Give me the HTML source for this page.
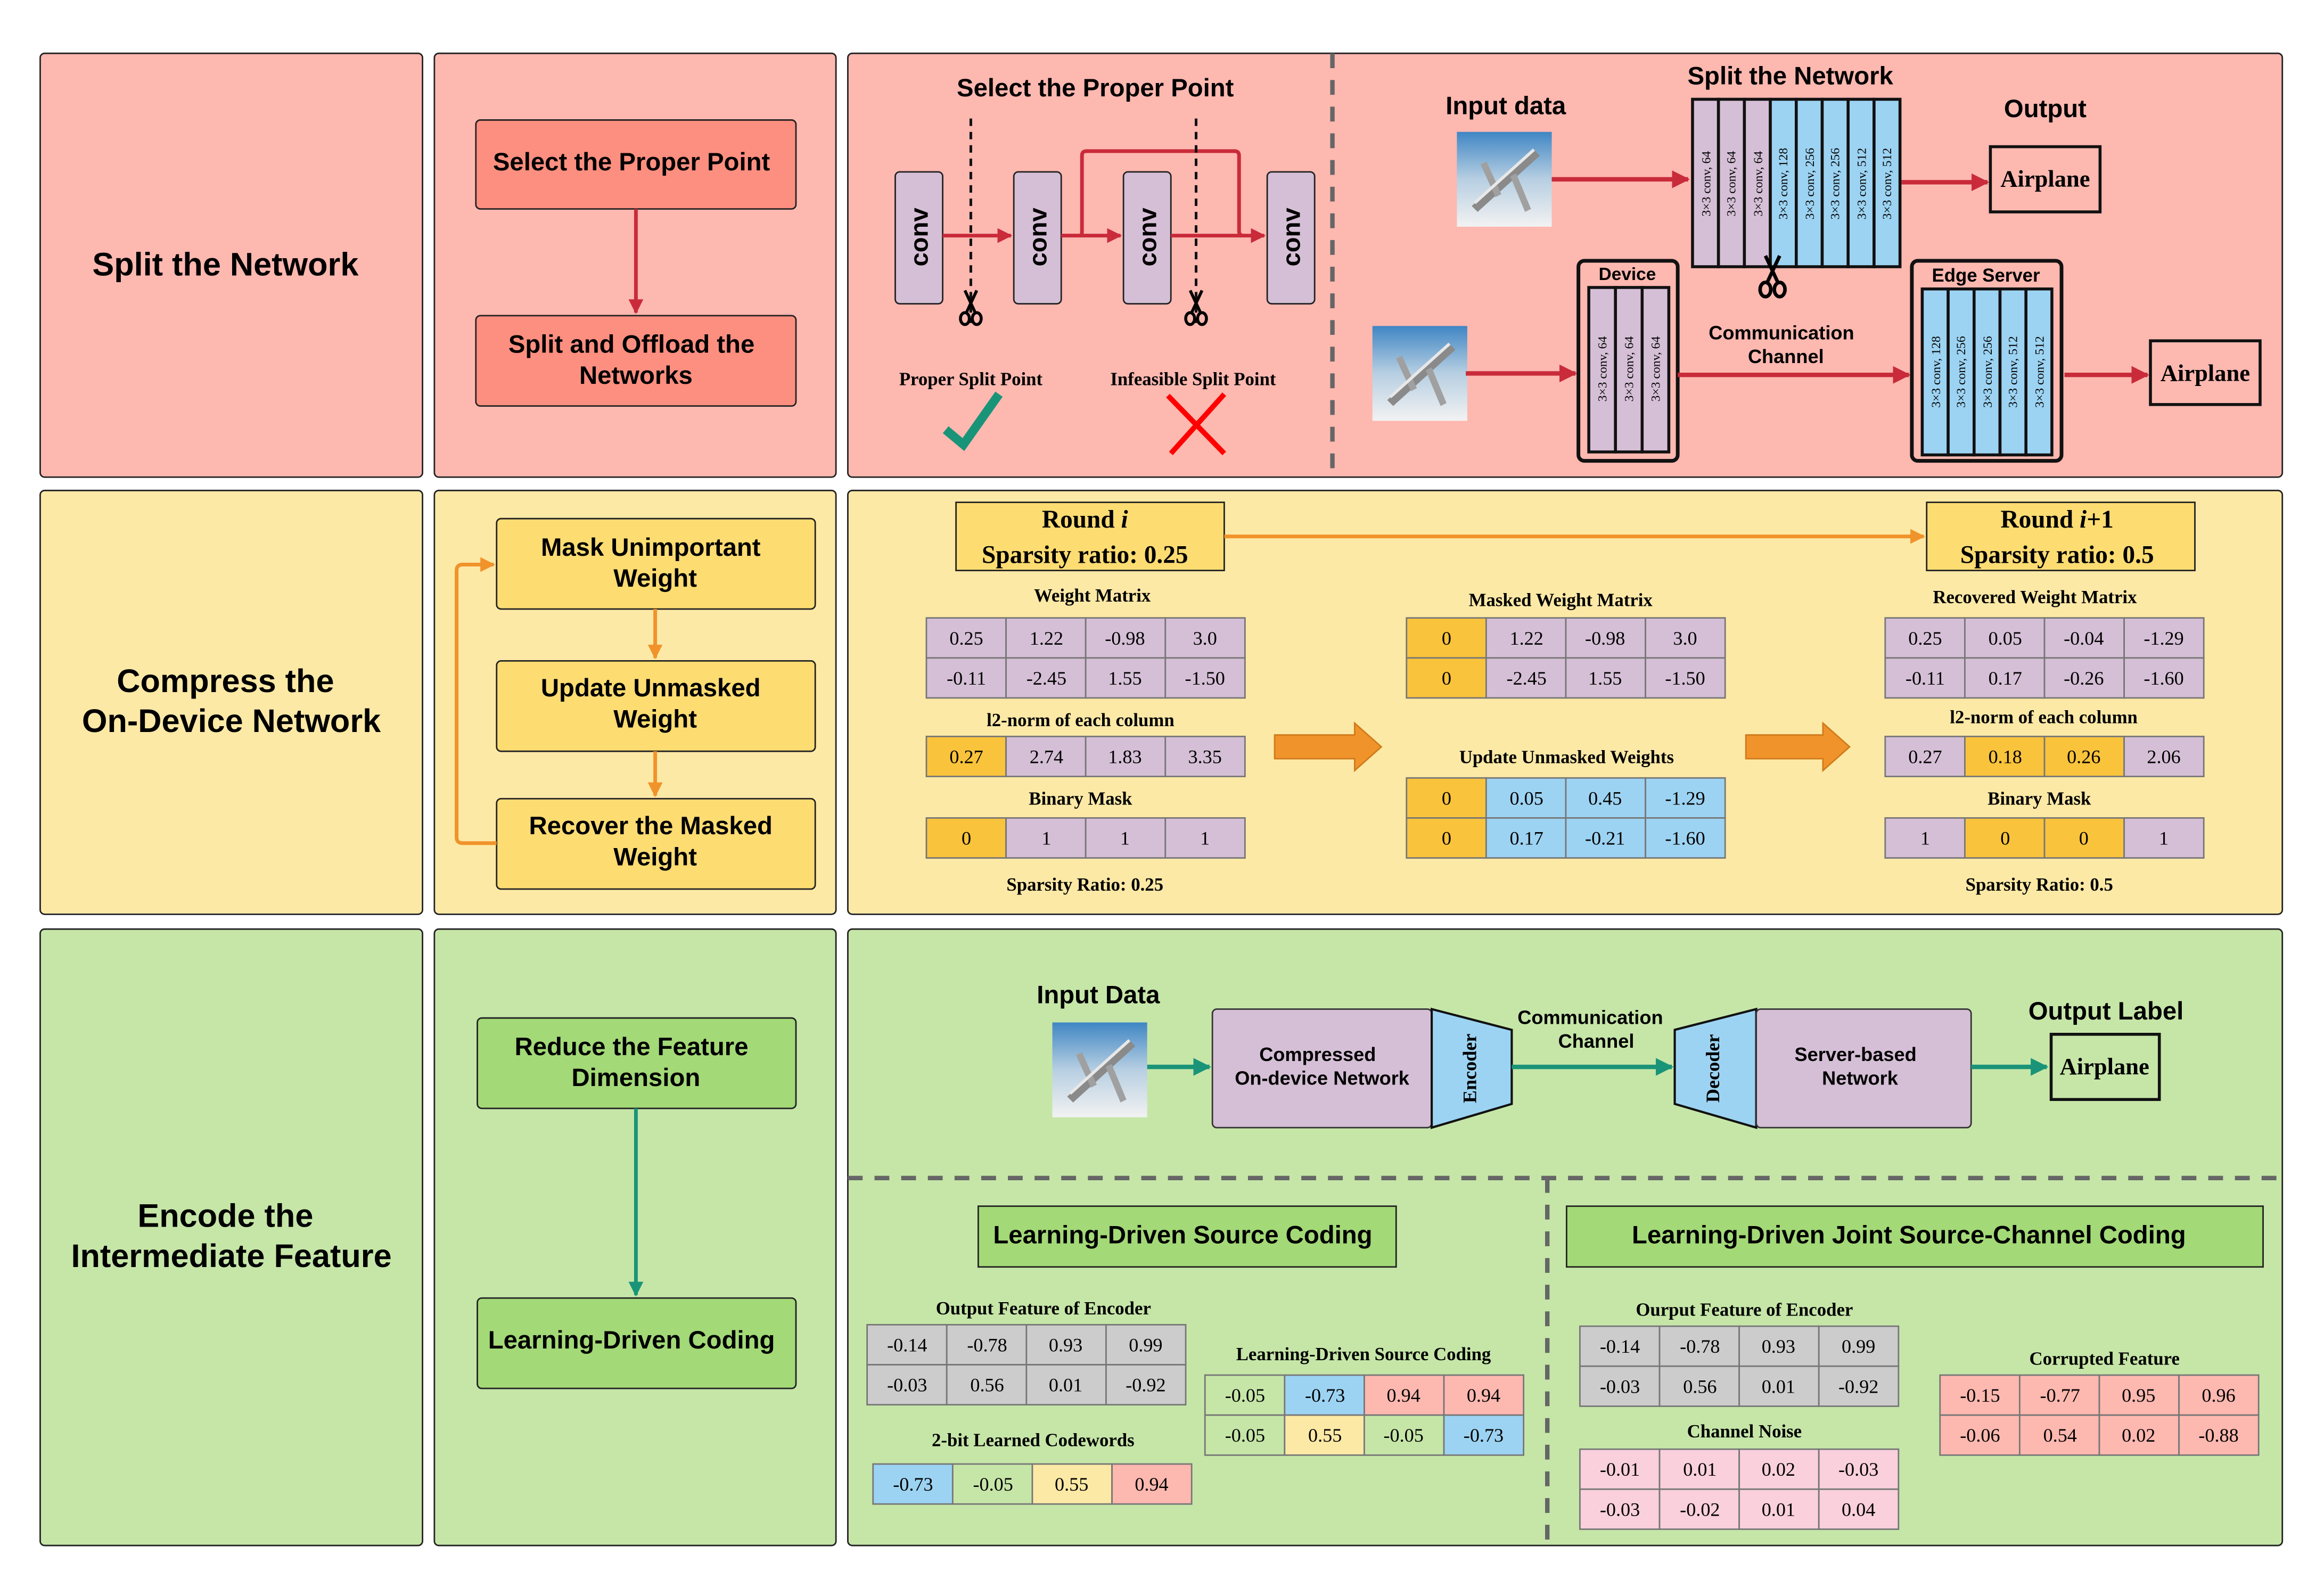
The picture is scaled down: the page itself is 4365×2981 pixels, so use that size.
<!DOCTYPE html>
<html><head><meta charset="utf-8"><style>
html,body{margin:0;padding:0;background:#fff;}
svg{display:block;}
.sb{font-family:"Liberation Sans",sans-serif;font-weight:bold;}
.sf{font-family:"Liberation Serif",serif;}
.sfb{font-family:"Liberation Serif",serif;font-weight:bold;}
</style></head><body>
<svg width="4365" height="2981" viewBox="0 0 1568 1071" xmlns="http://www.w3.org/2000/svg">
<defs>
<marker id="ar" viewBox="0 0 10 10" refX="9" refY="5" markerWidth="4" markerHeight="4" orient="auto"><path d="M0,0 L10,5 L0,10 z" fill="#c92b3a"/></marker>
<marker id="ao" viewBox="0 0 10 10" refX="9" refY="5" markerWidth="4" markerHeight="4" orient="auto"><path d="M0,0 L10,5 L0,10 z" fill="#f0932b"/></marker>
<marker id="at" viewBox="0 0 10 10" refX="9" refY="5" markerWidth="4" markerHeight="4" orient="auto"><path d="M0,0 L10,5 L0,10 z" fill="#1a9478"/></marker>
<linearGradient id="sky" x1="0" y1="0" x2="0" y2="1"><stop offset="0" stop-color="#3f86c4"/><stop offset="0.5" stop-color="#b7cfe2"/><stop offset="1" stop-color="#f2f2f2"/></linearGradient>
<g id="plane">
<rect x="0" y="0" width="64" height="64" fill="url(#sky)"/>
<path d="M10,50 L52,12 L56,16 L14,54 z" fill="#8a8a8a"/>
<path d="M20,20 L30,42 L26,44 L16,22 z" fill="#a0a0a0"/>
<path d="M40,28 L50,52 L46,54 L36,30 z" fill="#a0a0a0"/>
<path d="M12,48 L52,12" stroke="#e8e8e8" stroke-width="2"/>
</g>
<g id="sc" stroke="#000" stroke-width="2" fill="none">
<line x1="-4" y1="-12" x2="3" y2="3"/>
<line x1="4" y1="-12" x2="-3" y2="3"/>
<ellipse cx="-4" cy="7" rx="3" ry="4"/>
<ellipse cx="4" cy="7" rx="3" ry="4"/>
</g>
</defs>

<!-- Panels -->
<g stroke="#222" stroke-width="1">
<rect x="27" y="36" width="258" height="286" rx="3" fill="#fdb8b0"/>
<rect x="293" y="36" width="271" height="286" rx="3" fill="#fdb8b0"/>
<rect x="572" y="36" width="968" height="286" rx="3" fill="#fdb8b0"/>
<rect x="27" y="331" width="258" height="286" rx="3" fill="#fde9a6"/>
<rect x="293" y="331" width="271" height="286" rx="3" fill="#fde9a6"/>
<rect x="572" y="331" width="968" height="286" rx="3" fill="#fde9a6"/>
<rect x="27" y="627" width="258" height="416" rx="3" fill="#c6e6a8"/>
<rect x="293" y="627" width="271" height="416" rx="3" fill="#c6e6a8"/>
<rect x="572" y="627" width="968" height="416" rx="3" fill="#c6e6a8"/>
</g>

<!-- Row 1 -->
<text class="sb" x="152" y="186" font-size="22" text-anchor="middle">Split the Network</text>
<rect x="321" y="81" width="216" height="60" rx="3" fill="#fd8f80" stroke="#222"/>
<text class="sb" x="426" y="115" font-size="17" text-anchor="middle">Select the Proper Point</text>
<line x1="429" y1="141" x2="429" y2="211" stroke="#c92b3a" stroke-width="2.5" marker-end="url(#ar)"/>
<rect x="321" y="213" width="216" height="61" rx="3" fill="#fd8f80" stroke="#222"/>
<text class="sb" x="426" y="238" font-size="17" text-anchor="middle">Split and Offload the</text>
<text class="sb" x="429" y="259" font-size="17" text-anchor="middle">Networks</text>

<text class="sb" x="739" y="65" font-size="17" text-anchor="middle">Select the Proper Point</text>
<g stroke="#222" fill="#d5bfd6">
<rect x="604" y="116" width="32" height="89" rx="3"/>
<rect x="684" y="116" width="32" height="89" rx="3"/>
<rect x="758" y="116" width="32" height="89" rx="3"/>
<rect x="855" y="116" width="32" height="89" rx="3"/>
</g>
<g class="sb" font-size="17" text-anchor="middle">
<text transform="translate(626,160) rotate(-90)">conv</text>
<text transform="translate(706,160) rotate(-90)">conv</text>
<text transform="translate(780,160) rotate(-90)">conv</text>
<text transform="translate(877,160) rotate(-90)">conv</text>
</g>
<g stroke="#c92b3a" stroke-width="2.5" fill="none">
<line x1="636" y1="159" x2="682" y2="159" marker-end="url(#ar)"/>
<line x1="716" y1="159" x2="756" y2="159" marker-end="url(#ar)"/>
<line x1="790" y1="159" x2="853" y2="159" marker-end="url(#ar)"/>
<path d="M716,159 L729,159 Q730,159 730,156 L730,105 Q730,102 733,102 L833,102 Q836,102 836,105 L836,156 Q836,159 839,159"/>
</g>
<g stroke="#111" stroke-width="1.8" stroke-dasharray="5,4">
<line x1="655" y1="80" x2="655" y2="218"/>
<line x1="807" y1="80" x2="807" y2="218"/>
</g>
<use href="#sc" transform="translate(655,208)"/>
<use href="#sc" transform="translate(807,208)"/>
<text class="sfb" x="655" y="260" font-size="12.5" text-anchor="middle">Proper Split Point</text>
<text class="sfb" x="805" y="260" font-size="12.5" text-anchor="middle">Infeasible Split Point</text>
<path d="M638,290 L650,300 L674,266" stroke="#1a9478" stroke-width="6" fill="none"/>
<path d="M788,267 L826,306 M826,266 L790,306" stroke="#ff0000" stroke-width="3.5" fill="none"/>

<line x1="899" y1="36" x2="899" y2="322" stroke="#666" stroke-width="3" stroke-dasharray="10,8"/>

<text class="sb" x="1208" y="57" font-size="17" text-anchor="middle">Split the Network</text>
<text class="sb" x="1016" y="77" font-size="17" text-anchor="middle">Input data</text>
<text class="sb" x="1380" y="79" font-size="17" text-anchor="middle">Output</text>
<use href="#plane" x="983" y="89"/>
<line x1="1047" y1="121" x2="1139" y2="121" stroke="#c92b3a" stroke-width="3" marker-end="url(#ar)"/>
<g stroke="#111" stroke-width="2">
<rect x="1142" y="67" width="17.5" height="113" fill="#d5bfd6"/>
<rect x="1159.5" y="67" width="17.5" height="113" fill="#d5bfd6"/>
<rect x="1177" y="67" width="17.5" height="113" fill="#d5bfd6"/>
<rect x="1194.5" y="67" width="17.5" height="113" fill="#9dd3f2"/>
<rect x="1212" y="67" width="17.5" height="113" fill="#9dd3f2"/>
<rect x="1229.5" y="67" width="17.5" height="113" fill="#9dd3f2"/>
<rect x="1247" y="67" width="17.5" height="113" fill="#9dd3f2"/>
<rect x="1264.5" y="67" width="17.5" height="113" fill="#9dd3f2"/>
</g>
<g class="sf" font-size="8.5" text-anchor="middle">
<text transform="translate(1154,124) rotate(-90)">3×3 conv, 64</text>
<text transform="translate(1171,124) rotate(-90)">3×3 conv, 64</text>
<text transform="translate(1189,124) rotate(-90)">3×3 conv, 64</text>
<text transform="translate(1206,124) rotate(-90)">3×3 conv, 128</text>
<text transform="translate(1224,124) rotate(-90)">3×3 conv, 256</text>
<text transform="translate(1241,124) rotate(-90)">3×3 conv, 256</text>
<text transform="translate(1259,124) rotate(-90)">3×3 conv, 512</text>
<text transform="translate(1276,124) rotate(-90)">3×3 conv, 512</text>
</g>
<use href="#sc" transform="translate(1196,187) scale(1.2)"/>
<line x1="1283" y1="123" x2="1341" y2="123" stroke="#c92b3a" stroke-width="3" marker-end="url(#ar)"/>
<rect x="1343" y="99" width="74" height="44" fill="none" stroke="#111" stroke-width="2"/>
<text class="sfb" x="1380" y="126" font-size="16" text-anchor="middle">Airplane</text>

<use href="#plane" x="926" y="220"/>
<line x1="989" y1="252" x2="1063" y2="252" stroke="#c92b3a" stroke-width="3" marker-end="url(#ar)"/>
<rect x="1065" y="176" width="67" height="135" rx="4" fill="none" stroke="#111" stroke-width="2.5"/>
<text class="sb" x="1098" y="189" font-size="12" text-anchor="middle">Device</text>
<g stroke="#111" stroke-width="2" fill="#d5bfd6">
<rect x="1072" y="194" width="18" height="111"/>
<rect x="1090" y="194" width="18" height="111"/>
<rect x="1108" y="194" width="18" height="111"/>
</g>
<g class="sf" font-size="8.5" text-anchor="middle">
<text transform="translate(1084,249) rotate(-90)">3×3 conv, 64</text>
<text transform="translate(1102,249) rotate(-90)">3×3 conv, 64</text>
<text transform="translate(1120,249) rotate(-90)">3×3 conv, 64</text>
</g>
<text class="sb" x="1202" y="229" font-size="13" text-anchor="middle">Communication</text>
<text class="sb" x="1205" y="245" font-size="13" text-anchor="middle">Channel</text>
<line x1="1132" y1="253" x2="1288" y2="253" stroke="#c92b3a" stroke-width="3" marker-end="url(#ar)"/>
<rect x="1290" y="176" width="101" height="135" rx="4" fill="none" stroke="#111" stroke-width="2.5"/>
<text class="sb" x="1340" y="190" font-size="12.5" text-anchor="middle">Edge Server</text>
<g stroke="#111" stroke-width="2" fill="#9dd3f2">
<rect x="1297" y="195" width="17.5" height="112"/>
<rect x="1314.5" y="195" width="17.5" height="112"/>
<rect x="1332" y="195" width="17.5" height="112"/>
<rect x="1349.5" y="195" width="17.5" height="112"/>
<rect x="1367" y="195" width="17.5" height="112"/>
</g>
<g class="sf" font-size="8.5" text-anchor="middle">
<text transform="translate(1309,251) rotate(-90)">3×3 conv, 128</text>
<text transform="translate(1326,251) rotate(-90)">3×3 conv, 256</text>
<text transform="translate(1344,251) rotate(-90)">3×3 conv, 256</text>
<text transform="translate(1361,251) rotate(-90)">3×3 conv, 512</text>
<text transform="translate(1379,251) rotate(-90)">3×3 conv, 512</text>
</g>
<line x1="1393" y1="253" x2="1449" y2="253" stroke="#c92b3a" stroke-width="3" marker-end="url(#ar)"/>
<rect x="1451" y="230" width="74" height="43" fill="none" stroke="#111" stroke-width="2"/>
<text class="sfb" x="1488" y="257" font-size="16" text-anchor="middle">Airplane</text>

<!-- Row 2 -->
<text class="sb" x="152" y="467" font-size="22" text-anchor="middle">Compress the</text>
<text class="sb" x="156" y="494" font-size="22" text-anchor="middle">On-Device Network</text>
<g fill="#fddc72" stroke="#222">
<rect x="335" y="350" width="215" height="61" rx="3"/>
<rect x="335" y="446" width="215" height="61" rx="3"/>
<rect x="335" y="539" width="215" height="61" rx="3"/>
</g>
<g class="sb" font-size="17" text-anchor="middle">
<text x="439" y="375">Mask Unimportant</text><text x="442" y="396">Weight</text>
<text x="439" y="470">Update Unmasked</text><text x="442" y="491">Weight</text>
<text x="439" y="563">Recover the Masked</text><text x="442" y="584">Weight</text>
</g>
<g stroke="#f0932b" stroke-width="2.5" fill="none">
<line x1="442" y1="411" x2="442" y2="444" marker-end="url(#ao)"/>
<line x1="442" y1="507" x2="442" y2="537" marker-end="url(#ao)"/>
<path d="M335,569 L312,569 Q308,569 308,565 L308,385 Q308,381 312,381 L333,381" marker-end="url(#ao)"/>
</g>

<rect x="645" y="339" width="181" height="46" fill="#fddc72" stroke="#222"/>
<text class="sfb" x="732" y="356" font-size="17" text-anchor="middle">Round <tspan font-style="italic">i</tspan></text>
<text class="sfb" x="732" y="380" font-size="17" text-anchor="middle">Sparsity ratio: 0.25</text>
<line x1="826" y1="362" x2="1298" y2="362" stroke="#f0932b" stroke-width="2.5" marker-end="url(#ao)"/>
<rect x="1300" y="339" width="181" height="46" fill="#fddc72" stroke="#222"/>
<text class="sfb" x="1388" y="356" font-size="17" text-anchor="middle">Round <tspan font-style="italic">i</tspan>+1</text>
<text class="sfb" x="1388" y="380" font-size="17" text-anchor="middle">Sparsity ratio: 0.5</text>

<g class="sfb" font-size="12.5" text-anchor="middle">
<text x="737" y="406">Weight Matrix</text>
<text x="729" y="490">l2-norm of each column</text>
<text x="729" y="543">Binary Mask</text>
<text x="732" y="601">Sparsity Ratio: 0.25</text>
<text x="1053" y="409">Masked Weight Matrix</text>
<text x="1057" y="515">Update Unmasked Weights</text>
<text x="1373" y="407">Recovered Weight Matrix</text>
<text x="1379" y="488">l2-norm of each column</text>
<text x="1376" y="543">Binary Mask</text>
<text x="1376" y="601">Sparsity Ratio: 0.5</text>
</g>

<g stroke="#777" stroke-width="1">
<rect x="625" y="417" width="53.75" height="27" fill="#d5bfd6"/><rect x="678.75" y="417" width="53.75" height="27" fill="#d5bfd6"/><rect x="732.5" y="417" width="53.75" height="27" fill="#d5bfd6"/><rect x="786.25" y="417" width="53.75" height="27" fill="#d5bfd6"/>
<rect x="625" y="444" width="53.75" height="27" fill="#d5bfd6"/><rect x="678.75" y="444" width="53.75" height="27" fill="#d5bfd6"/><rect x="732.5" y="444" width="53.75" height="27" fill="#d5bfd6"/><rect x="786.25" y="444" width="53.75" height="27" fill="#d5bfd6"/>
<rect x="625" y="497" width="53.75" height="27" fill="#f9c33b"/><rect x="678.75" y="497" width="53.75" height="27" fill="#d5bfd6"/><rect x="732.5" y="497" width="53.75" height="27" fill="#d5bfd6"/><rect x="786.25" y="497" width="53.75" height="27" fill="#d5bfd6"/>
<rect x="625" y="552" width="53.75" height="27" fill="#f9c33b"/><rect x="678.75" y="552" width="53.75" height="27" fill="#d5bfd6"/><rect x="732.5" y="552" width="53.75" height="27" fill="#d5bfd6"/><rect x="786.25" y="552" width="53.75" height="27" fill="#d5bfd6"/>
<rect x="949" y="417" width="53.75" height="27" fill="#f9c33b"/><rect x="1002.75" y="417" width="53.75" height="27" fill="#d5bfd6"/><rect x="1056.5" y="417" width="53.75" height="27" fill="#d5bfd6"/><rect x="1110.25" y="417" width="53.75" height="27" fill="#d5bfd6"/>
<rect x="949" y="444" width="53.75" height="27" fill="#f9c33b"/><rect x="1002.75" y="444" width="53.75" height="27" fill="#d5bfd6"/><rect x="1056.5" y="444" width="53.75" height="27" fill="#d5bfd6"/><rect x="1110.25" y="444" width="53.75" height="27" fill="#d5bfd6"/>
<rect x="949" y="525" width="53.75" height="27" fill="#f9c33b"/><rect x="1002.75" y="525" width="53.75" height="27" fill="#9dd3f2"/><rect x="1056.5" y="525" width="53.75" height="27" fill="#9dd3f2"/><rect x="1110.25" y="525" width="53.75" height="27" fill="#9dd3f2"/>
<rect x="949" y="552" width="53.75" height="27" fill="#f9c33b"/><rect x="1002.75" y="552" width="53.75" height="27" fill="#9dd3f2"/><rect x="1056.5" y="552" width="53.75" height="27" fill="#9dd3f2"/><rect x="1110.25" y="552" width="53.75" height="27" fill="#9dd3f2"/>
<rect x="1272" y="417" width="53.75" height="27" fill="#d5bfd6"/><rect x="1325.75" y="417" width="53.75" height="27" fill="#d5bfd6"/><rect x="1379.5" y="417" width="53.75" height="27" fill="#d5bfd6"/><rect x="1433.25" y="417" width="53.75" height="27" fill="#d5bfd6"/>
<rect x="1272" y="444" width="53.75" height="27" fill="#d5bfd6"/><rect x="1325.75" y="444" width="53.75" height="27" fill="#d5bfd6"/><rect x="1379.5" y="444" width="53.75" height="27" fill="#d5bfd6"/><rect x="1433.25" y="444" width="53.75" height="27" fill="#d5bfd6"/>
<rect x="1272" y="497" width="53.75" height="27" fill="#d5bfd6"/><rect x="1325.75" y="497" width="53.75" height="27" fill="#f9c33b"/><rect x="1379.5" y="497" width="53.75" height="27" fill="#f9c33b"/><rect x="1433.25" y="497" width="53.75" height="27" fill="#d5bfd6"/>
<rect x="1272" y="552" width="53.75" height="27" fill="#d5bfd6"/><rect x="1325.75" y="552" width="53.75" height="27" fill="#f9c33b"/><rect x="1379.5" y="552" width="53.75" height="27" fill="#f9c33b"/><rect x="1433.25" y="552" width="53.75" height="27" fill="#d5bfd6"/>
</g>
<g class="sf" font-size="13" text-anchor="middle">
<text x="652" y="435">0.25</text><text x="706" y="435">1.22</text><text x="759" y="435">-0.98</text><text x="813" y="435">3.0</text>
<text x="652" y="462">-0.11</text><text x="706" y="462">-2.45</text><text x="759" y="462">1.55</text><text x="813" y="462">-1.50</text>
<text x="652" y="515">0.27</text><text x="706" y="515">2.74</text><text x="759" y="515">1.83</text><text x="813" y="515">3.35</text>
<text x="652" y="570">0</text><text x="706" y="570">1</text><text x="759" y="570">1</text><text x="813" y="570">1</text>
<text x="976" y="435">0</text><text x="1030" y="435">1.22</text><text x="1083" y="435">-0.98</text><text x="1137" y="435">3.0</text>
<text x="976" y="462">0</text><text x="1030" y="462">-2.45</text><text x="1083" y="462">1.55</text><text x="1137" y="462">-1.50</text>
<text x="976" y="543">0</text><text x="1030" y="543">0.05</text><text x="1083" y="543">0.45</text><text x="1137" y="543">-1.29</text>
<text x="976" y="570">0</text><text x="1030" y="570">0.17</text><text x="1083" y="570">-0.21</text><text x="1137" y="570">-1.60</text>
<text x="1299" y="435">0.25</text><text x="1353" y="435">0.05</text><text x="1406" y="435">-0.04</text><text x="1460" y="435">-1.29</text>
<text x="1299" y="462">-0.11</text><text x="1353" y="462">0.17</text><text x="1406" y="462">-0.26</text><text x="1460" y="462">-1.60</text>
<text x="1299" y="515">0.27</text><text x="1353" y="515">0.18</text><text x="1406" y="515">0.26</text><text x="1460" y="515">2.06</text>
<text x="1299" y="570">1</text><text x="1353" y="570">0</text><text x="1406" y="570">0</text><text x="1460" y="570">1</text>
</g>
<path d="M860,496 L914,496 L914,488 L932,504 L914,520 L914,512 L860,512 z" fill="#f0932b" stroke="#d07b1b"/>
<path d="M1178,496 L1230,496 L1230,488 L1248,504 L1230,520 L1230,512 L1178,512 z" fill="#f0932b" stroke="#d07b1b"/>

<!-- Row 3 -->
<text class="sb" x="152" y="828" font-size="22" text-anchor="middle">Encode the</text>
<text class="sb" x="156" y="855" font-size="22" text-anchor="middle">Intermediate Feature</text>
<rect x="322" y="687" width="215" height="61" rx="3" fill="#a3d977" stroke="#222"/>
<text class="sb" x="426" y="712" font-size="17" text-anchor="middle">Reduce the Feature</text>
<text class="sb" x="429" y="733" font-size="17" text-anchor="middle">Dimension</text>
<line x1="429" y1="748" x2="429" y2="874" stroke="#1a9478" stroke-width="2.5" marker-end="url(#at)"/>
<rect x="322" y="876" width="215" height="61" rx="3" fill="#a3d977" stroke="#222"/>
<text class="sb" x="426" y="910" font-size="17" text-anchor="middle">Learning-Driven Coding</text>

<text class="sb" x="741" y="677" font-size="17" text-anchor="middle">Input Data</text>
<use href="#plane" x="710" y="690"/>
<line x1="774" y1="720" x2="816" y2="720" stroke="#1a9478" stroke-width="3" marker-end="url(#at)"/>
<rect x="818" y="681" width="148" height="80" rx="3" fill="#d5bfd6" stroke="#333"/>
<text class="sb" x="889" y="716" font-size="13" text-anchor="middle">Compressed</text>
<text class="sb" x="892" y="732" font-size="13" text-anchor="middle">On-device Network</text>
<path d="M966,681 L1020,695 L1020,745 L966,761 z" fill="#9dd3f2" stroke="#111" stroke-width="1.5"/>
<text class="sfb" font-size="13" text-anchor="middle" transform="translate(996,721) rotate(-90)">Encoder</text>
<text class="sb" x="1073" y="691" font-size="13" text-anchor="middle">Communication</text>
<text class="sb" x="1077" y="707" font-size="13" text-anchor="middle">Channel</text>
<line x1="1020" y1="720" x2="1128" y2="720" stroke="#1a9478" stroke-width="3" marker-end="url(#at)"/>
<path d="M1130,695 L1185,681 L1185,761 L1130,745 z" fill="#9dd3f2" stroke="#111" stroke-width="1.5"/>
<text class="sfb" font-size="13" text-anchor="middle" transform="translate(1160,721) rotate(-90)">Decoder</text>
<rect x="1185" y="681" width="145" height="80" rx="3" fill="#d5bfd6" stroke="#333"/>
<text class="sb" x="1252" y="716" font-size="13" text-anchor="middle">Server-based</text>
<text class="sb" x="1255" y="732" font-size="13" text-anchor="middle">Network</text>
<line x1="1330" y1="720" x2="1381" y2="720" stroke="#1a9478" stroke-width="3" marker-end="url(#at)"/>
<text class="sb" x="1421" y="688" font-size="17" text-anchor="middle">Output Label</text>
<rect x="1384" y="698" width="73" height="44" fill="none" stroke="#111" stroke-width="2"/>
<text class="sfb" x="1420" y="725" font-size="16" text-anchor="middle">Airplane</text>

<line x1="572" y1="795" x2="1540" y2="795" stroke="#666" stroke-width="3" stroke-dasharray="10,8"/>
<line x1="1044" y1="795" x2="1044" y2="1043" stroke="#666" stroke-width="3" stroke-dasharray="10,8"/>

<rect x="660" y="814" width="282" height="41" fill="#a3d977" stroke="#222"/>
<text class="sb" x="798" y="839" font-size="17" text-anchor="middle">Learning-Driven Source Coding</text>
<rect x="1057" y="814" width="470" height="41" fill="#a3d977" stroke="#222"/>
<text class="sb" x="1288" y="839" font-size="17" text-anchor="middle">Learning-Driven Joint Source-Channel Coding</text>

<g class="sfb" font-size="12.5" text-anchor="middle">
<text x="704" y="887">Output Feature of Encoder</text>
<text x="697" y="976">2-bit Learned Codewords</text>
<text x="920" y="918">Learning-Driven Source Coding</text>
<text x="1177" y="888">Ourput Feature of Encoder</text>
<text x="1177" y="970">Channel Noise</text>
<text x="1420" y="921">Corrupted Feature</text>
</g>
<g stroke="#777" stroke-width="1">
<rect x="585" y="894" width="53.75" height="27" fill="#cccccc"/><rect x="638.75" y="894" width="53.75" height="27" fill="#cccccc"/><rect x="692.5" y="894" width="53.75" height="27" fill="#cccccc"/><rect x="746.25" y="894" width="53.75" height="27" fill="#cccccc"/>
<rect x="585" y="921" width="53.75" height="27" fill="#cccccc"/><rect x="638.75" y="921" width="53.75" height="27" fill="#cccccc"/><rect x="692.5" y="921" width="53.75" height="27" fill="#cccccc"/><rect x="746.25" y="921" width="53.75" height="27" fill="#cccccc"/>
<rect x="589" y="988" width="53.75" height="27" fill="#9dd3f2"/><rect x="642.75" y="988" width="53.75" height="27" fill="#c6e6a8"/><rect x="696.5" y="988" width="53.75" height="27" fill="#fde9a6"/><rect x="750.25" y="988" width="53.75" height="27" fill="#fdb8b0"/>
<rect x="813" y="928" width="53.75" height="27" fill="#c6e6a8"/><rect x="866.75" y="928" width="53.75" height="27" fill="#9dd3f2"/><rect x="920.5" y="928" width="53.75" height="27" fill="#fdb8b0"/><rect x="974.25" y="928" width="53.75" height="27" fill="#fdb8b0"/>
<rect x="813" y="955" width="53.75" height="27" fill="#c6e6a8"/><rect x="866.75" y="955" width="53.75" height="27" fill="#fde9a6"/><rect x="920.5" y="955" width="53.75" height="27" fill="#c6e6a8"/><rect x="974.25" y="955" width="53.75" height="27" fill="#9dd3f2"/>
<rect x="1066" y="895" width="53.75" height="27" fill="#cccccc"/><rect x="1119.75" y="895" width="53.75" height="27" fill="#cccccc"/><rect x="1173.5" y="895" width="53.75" height="27" fill="#cccccc"/><rect x="1227.25" y="895" width="53.75" height="27" fill="#cccccc"/>
<rect x="1066" y="922" width="53.75" height="27" fill="#cccccc"/><rect x="1119.75" y="922" width="53.75" height="27" fill="#cccccc"/><rect x="1173.5" y="922" width="53.75" height="27" fill="#cccccc"/><rect x="1227.25" y="922" width="53.75" height="27" fill="#cccccc"/>
<rect x="1066" y="978" width="53.75" height="27" fill="#f9d0dc"/><rect x="1119.75" y="978" width="53.75" height="27" fill="#f9d0dc"/><rect x="1173.5" y="978" width="53.75" height="27" fill="#f9d0dc"/><rect x="1227.25" y="978" width="53.75" height="27" fill="#f9d0dc"/>
<rect x="1066" y="1005" width="53.75" height="27" fill="#f9d0dc"/><rect x="1119.75" y="1005" width="53.75" height="27" fill="#f9d0dc"/><rect x="1173.5" y="1005" width="53.75" height="27" fill="#f9d0dc"/><rect x="1227.25" y="1005" width="53.75" height="27" fill="#f9d0dc"/>
<rect x="1309" y="928" width="53.75" height="27" fill="#fdb8b0"/><rect x="1362.75" y="928" width="53.75" height="27" fill="#fdb8b0"/><rect x="1416.5" y="928" width="53.75" height="27" fill="#fdb8b0"/><rect x="1470.25" y="928" width="53.75" height="27" fill="#fdb8b0"/>
<rect x="1309" y="955" width="53.75" height="27" fill="#fdb8b0"/><rect x="1362.75" y="955" width="53.75" height="27" fill="#fdb8b0"/><rect x="1416.5" y="955" width="53.75" height="27" fill="#fdb8b0"/><rect x="1470.25" y="955" width="53.75" height="27" fill="#fdb8b0"/>
</g>
<g class="sf" font-size="13" text-anchor="middle">
<text x="612" y="912">-0.14</text><text x="666" y="912">-0.78</text><text x="719" y="912">0.93</text><text x="773" y="912">0.99</text>
<text x="612" y="939">-0.03</text><text x="666" y="939">0.56</text><text x="719" y="939">0.01</text><text x="773" y="939">-0.92</text>
<text x="616" y="1006">-0.73</text><text x="670" y="1006">-0.05</text><text x="723" y="1006">0.55</text><text x="777" y="1006">0.94</text>
<text x="840" y="946">-0.05</text><text x="894" y="946">-0.73</text><text x="947" y="946">0.94</text><text x="1001" y="946">0.94</text>
<text x="840" y="973">-0.05</text><text x="894" y="973">0.55</text><text x="947" y="973">-0.05</text><text x="1001" y="973">-0.73</text>
<text x="1093" y="913">-0.14</text><text x="1147" y="913">-0.78</text><text x="1200" y="913">0.93</text><text x="1254" y="913">0.99</text>
<text x="1093" y="940">-0.03</text><text x="1147" y="940">0.56</text><text x="1200" y="940">0.01</text><text x="1254" y="940">-0.92</text>
<text x="1093" y="996">-0.01</text><text x="1147" y="996">0.01</text><text x="1200" y="996">0.02</text><text x="1254" y="996">-0.03</text>
<text x="1093" y="1023">-0.03</text><text x="1147" y="1023">-0.02</text><text x="1200" y="1023">0.01</text><text x="1254" y="1023">0.04</text>
<text x="1336" y="946">-0.15</text><text x="1390" y="946">-0.77</text><text x="1443" y="946">0.95</text><text x="1497" y="946">0.96</text>
<text x="1336" y="973">-0.06</text><text x="1390" y="973">0.54</text><text x="1443" y="973">0.02</text><text x="1497" y="973">-0.88</text>
</g>
</svg>
</body></html>
